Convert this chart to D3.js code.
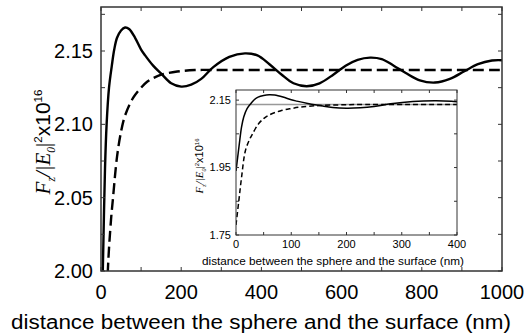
<!DOCTYPE html>
<html>
<head>
<meta charset="utf-8">
<script src="https://cdn.jsdelivr.net/npm/d3@7"></script>
<style>
  body { margin: 0; background: #fff; }
  svg { display: block; }
</style>
</head>
<body>
<div id="chart"></div>
<script>
// distance (nm) and force values
var solidX = [0, 3, 6, 10, 14, 20, 27, 33, 40, 50, 60, 70, 85, 100, 110, 130, 152, 175, 200, 225, 250, 280, 320, 359, 390, 420, 450, 480, 513, 545, 580, 610, 640, 671, 700, 730, 760, 795, 833, 870, 905, 940, 975, 1000];
var solidY = [1.94, 1.98, 2.02, 2.07, 2.10, 2.125, 2.14, 2.151, 2.159, 2.164, 2.166, 2.165, 2.159, 2.151, 2.147, 2.14, 2.134, 2.128, 2.1257, 2.127, 2.131, 2.139, 2.146, 2.1484, 2.147, 2.141, 2.134, 2.128, 2.126, 2.128, 2.134, 2.14, 2.144, 2.1455, 2.1445, 2.14, 2.135, 2.13, 2.1285, 2.131, 2.136, 2.141, 2.1435, 2.1437];

var dashX = [0, 5, 10, 17, 25, 30, 40, 50, 60, 80, 100, 115, 130, 152, 190, 234, 300, 400, 600, 800, 1000];
var dashY = [1.78, 1.85, 1.92, 2.0, 2.035, 2.05, 2.078, 2.095, 2.106, 2.118, 2.125, 2.129, 2.1315, 2.134, 2.136, 2.137, 2.137, 2.137, 2.137, 2.137, 2.137];

var limitY = 2.137;

var mainXTicks = [0, 200, 400, 600, 800, 1000];
var mainYTicks = [2.00, 2.05, 2.10, 2.15];
var insetXTicks = [0, 100, 200, 300, 400];
var insetYTicks = [1.75, 1.95, 2.15];

var xLabel = "distance between the sphere and the surface (nm)";

var w = 527, h = 334;
var sans = "'Liberation Sans', Arial, Helvetica, sans-serif";
var serif = "'Liberation Serif', 'Times New Roman', serif";

var svg = d3.select("#chart").append("svg")
  .attr("width", w)
  .attr("height", h);

var solid = d3.zip(solidX, solidY);
var dashed = d3.zip(dashX, dashY);

function panel(opt) {
  var x = d3.scaleLinear().domain(opt.xd).range([opt.l, opt.r]);
  var y = d3.scaleLinear().domain(opt.yd).range([opt.b, opt.t]);

  var g = svg.append("g");

  g.append("rect")
    .attr("x", opt.l).attr("y", opt.t)
    .attr("width", opt.r - opt.l).attr("height", opt.b - opt.t)
    .style("fill", "#fff");

  var clipId = "clip-" + opt.name;
  g.append("clipPath").attr("id", clipId)
    .append("rect")
    .attr("x", opt.l).attr("y", opt.t)
    .attr("width", opt.r - opt.l).attr("height", opt.b - opt.t);

  var line = d3.line()
    .x(function(d) { return x(d[0]); })
    .y(function(d) { return y(d[1]); })
    .curve(d3.curveCatmullRom);

  var plot = g.append("g").attr("clip-path", "url(#" + clipId + ")");

  if (opt.limit) {
    plot.append("line")
      .attr("x1", opt.l).attr("x2", opt.r)
      .attr("y1", y(limitY)).attr("y2", y(limitY))
      .style("stroke", "#999")
      .style("stroke-width", 1.5);
  }

  plot.append("path")
    .datum(dashed)
    .attr("d", line)
    .style("fill", "none")
    .style("stroke", "#000")
    .style("stroke-width", opt.lw)
    .style("stroke-dasharray", opt.dash);

  plot.append("path")
    .datum(solid)
    .attr("d", line)
    .style("fill", "none")
    .style("stroke", "#000")
    .style("stroke-width", opt.lw);

  // inward ticks on all four sides
  var tl = opt.tick;
  var xt = d3.range(opt.xd[0], opt.xd[1] + 1e-9, opt.xStep);
  var yt = d3.range(opt.yd[0], opt.yd[1] + 1e-9, opt.yStep);
  var ticks = g.append("g").style("stroke", "#333").style("stroke-width", 1);
  xt.forEach(function(v) {
    ticks.append("line").attr("x1", x(v)).attr("x2", x(v)).attr("y1", opt.b).attr("y2", opt.b - tl);
    ticks.append("line").attr("x1", x(v)).attr("x2", x(v)).attr("y1", opt.t).attr("y2", opt.t + tl);
  });
  yt.forEach(function(v) {
    ticks.append("line").attr("y1", y(v)).attr("y2", y(v)).attr("x1", opt.l).attr("x2", opt.l + tl);
    ticks.append("line").attr("y1", y(v)).attr("y2", y(v)).attr("x1", opt.r).attr("x2", opt.r - tl);
  });

  g.append("rect")
    .attr("x", opt.l).attr("y", opt.t)
    .attr("width", opt.r - opt.l).attr("height", opt.b - opt.t)
    .style("fill", "none")
    .style("stroke", "#333")
    .style("stroke-width", opt.frame);

  g.selectAll(".xl").data(opt.xLabels).enter().append("text")
    .attr("x", function(d) { return x(d); })
    .attr("y", opt.b + opt.xOff)
    .attr("text-anchor", "middle")
    .style("font-family", sans)
    .style("font-size", opt.fs + "px")
    .text(function(d) { return d; });

  g.selectAll(".yl").data(opt.yLabels).enter().append("text")
    .attr("x", opt.l - opt.yOff)
    .attr("y", function(d) { return y(d); })
    .attr("dy", "0.35em")
    .attr("text-anchor", "end")
    .style("font-family", sans)
    .style("font-size", opt.fs + "px")
    .text(function(d) { return d.toFixed(2); });

  g.append("text")
    .attr("x", opt.labelX)
    .attr("y", opt.labelY)
    .attr("text-anchor", "middle")
    .attr("textLength", opt.labelLen)
    .attr("lengthAdjust", "spacingAndGlyphs")
    .style("font-family", sans)
    .style("font-size", opt.lfs + "px")
    .text(xLabel);

  // y title: F_z/|E_0|^2 x10^16
  var s = opt.yfs;
  var t = g.append("text")
    .attr("transform", "translate(" + opt.yTitleX + "," + opt.yTitleY + ") rotate(-90)")
    .attr("text-anchor", "middle")
    .style("font-size", s + "px");
  t.append("tspan").style("font-family", serif).style("font-style", "italic").text("F");
  t.append("tspan").style("font-family", serif).style("font-style", "italic")
    .style("font-size", (s * 0.55) + "px").attr("dy", s * 0.25).text("z");
  t.append("tspan").style("font-family", serif).style("font-style", "italic")
    .attr("dy", -s * 0.25).text("/|E");
  t.append("tspan").style("font-family", serif).style("font-style", "italic")
    .style("font-size", (s * 0.55) + "px").attr("dy", s * 0.25).text("0");
  t.append("tspan").style("font-family", serif).attr("dy", -s * 0.25).text("|");
  t.append("tspan").style("font-family", sans)
    .style("font-size", (s * 0.55) + "px").attr("dy", -s * 0.4).text("2");
  t.append("tspan").style("font-family", sans).attr("dy", s * 0.4).text("x10");
  t.append("tspan").style("font-family", sans)
    .style("font-size", (s * 0.55) + "px").attr("dy", -s * 0.4).text("16");
}

panel({
  name: "main", l: 101, r: 502, t: 7, b: 271,
  xd: [0, 1000], yd: [2.00, 2.18],
  xStep: 100, yStep: 0.025, tick: 4,
  lw: 2.4, dash: "11,5", frame: 1.5, limit: false,
  xLabels: mainXTicks, yLabels: mainYTicks,
  fs: 20, xOff: 28, yOff: 8,
  lfs: 20, labelX: 261, labelY: 329, labelLen: 500,
  yfs: 21, yTitleX: 50, yTitleY: 142
});

panel({
  name: "inset", l: 236, r: 457, t: 90, b: 235,
  xd: [0, 400], yd: [1.75, 2.18],
  xStep: 50, yStep: 0.1, tick: 3,
  lw: 1.5, dash: "5,3", frame: 1, limit: true,
  xLabels: insetXTicks, yLabels: insetYTicks,
  fs: 11, xOff: 13, yOff: 5,
  lfs: 11, labelX: 333, labelY: 265, labelLen: 262,
  yfs: 11, yTitleX: 203, yTitleY: 166
});
</script>
</body>
</html>
